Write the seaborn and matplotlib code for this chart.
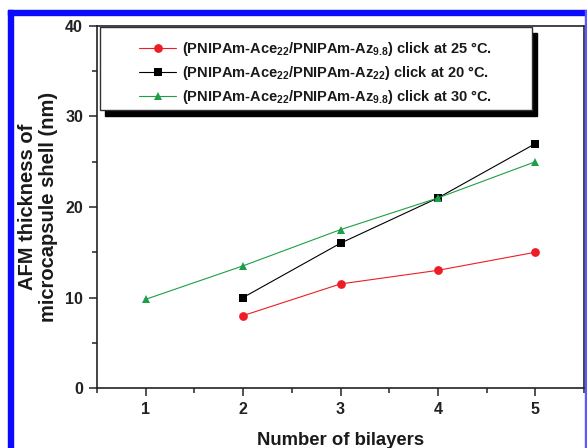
import matplotlib
matplotlib.use("Agg")
import matplotlib.pyplot as plt
from matplotlib.patches import Rectangle
from matplotlib.ticker import MultipleLocator
import seaborn as sns
import pandas as pd

# ---- data ----
bilayers_25 = [2, 3, 4, 5]
thick_25 = [8.0, 11.5, 13.0, 15.0]
bilayers_20 = [2, 3, 4, 5]
thick_20 = [10.0, 16.0, 21.0, 27.0]
bilayers_30 = [1, 2, 3, 4, 5]
thick_30 = [9.8, 13.5, 17.5, 21.0, 25.0]
labels = [
    r"(PNIPAm-Ace$_{22}$/PNIPAm-Az$_{9.8}$) click at 25 °C.",
    r"(PNIPAm-Ace$_{22}$/PNIPAm-Az$_{22}$) click at 20 °C.",
    r"(PNIPAm-Ace$_{22}$/PNIPAm-Az$_{9.8}$) click at 30 °C.",
]
x_label = "Number of bilayers"
y_label = "AFM thickness of\nmicrocapsule shell (nm)"

sns.set_theme(style="ticks")
plt.rcParams["font.family"] = ["Liberation Sans", "DejaVu Sans"]
plt.rcParams["font.weight"] = "bold"
plt.rcParams["mathtext.fontset"] = "custom"
plt.rcParams["mathtext.rm"] = "Liberation Sans:bold"
plt.rcParams["mathtext.bf"] = "Liberation Sans:bold"
plt.rcParams["mathtext.it"] = "Liberation Sans:bold"
plt.rcParams["mathtext.default"] = "bf"

fig = plt.figure(figsize=(5.87, 4.48), dpi=100)
ax = fig.add_axes([97 / 587, 1 - 388 / 448, 487 / 587, 362 / 448])

series = [
    (bilayers_25, thick_25, "o", "#ee1c25", labels[0]),
    (bilayers_20, thick_20, "s", "#000000", labels[1]),
    (bilayers_30, thick_30, "^", "#1e9e48", labels[2]),
]
for xs, ys, mk, col, lab in series:
    df = pd.DataFrame({"x": xs, "y": ys})
    sns.lineplot(data=df, x="x", y="y", marker=mk, color=col, label=lab,
                 markersize=6.3, markeredgewidth=0, linewidth=0.8, ax=ax)

ax.set_xlim(0.5, 5.5)
ax.set_ylim(0, 40)
ax.xaxis.set_major_locator(MultipleLocator(1))
ax.xaxis.set_minor_locator(MultipleLocator(0.5))
ax.yaxis.set_major_locator(MultipleLocator(10))
ax.yaxis.set_minor_locator(MultipleLocator(5))
ax.tick_params(which="major", direction="out", length=6, width=1.1,
               labelsize=11.5, pad=4, colors="#222222")
ax.tick_params(which="minor", direction="out", length=3.5, width=1.1,
               colors="#222222")
for lab in ax.get_xticklabels() + ax.get_yticklabels():
    lab.set_fontweight("bold")
for sp in ax.spines.values():
    sp.set_visible(True)
    sp.set_linewidth(1.2)
    sp.set_color("#222222")

ax.set_xlabel(x_label, fontsize=13.3, fontweight="bold", labelpad=11, color="#1a1a1a")
ax.set_ylabel(y_label, fontsize=14.5, fontweight="bold", labelpad=5, color="#1a1a1a",
              linespacing=1.15)

# legend box with shadow
bx0, by0, bw, bh = 3 / 487, (388 - 110) / 362, 432 / 487, 83 / 362
dx, dy = 5 / 487, 6 / 362
ax.add_patch(Rectangle((bx0 + dx, by0 - dy), bw, bh, transform=ax.transAxes,
                       facecolor="black", edgecolor="black", zorder=5, clip_on=False))
ax.add_patch(Rectangle((bx0, by0), bw, bh, transform=ax.transAxes,
                       facecolor="white", edgecolor="#333333", linewidth=1.0,
                       zorder=6, clip_on=False))
handles, labs = ax.get_legend_handles_labels()
leg = ax.legend(handles, labs, loc="center",
                bbox_to_anchor=(bx0 + bw / 2 - 0.002, by0 + bh / 2 - 0.012),
                frameon=False, fontsize=10.5, handlelength=2.6, handletextpad=0.35,
                labelspacing=0.42, borderpad=0.0)
leg.set_zorder(7)
for t in leg.get_texts():
    t.set_fontweight("bold")
    t.set_color("#1a1a1a")

# blue page border
blue = "#0a0aff"
fig.patches.append(Rectangle((8 / 587, 0), 5 / 587, 1 - 10 / 448,
                             transform=fig.transFigure, color=blue, zorder=10))
fig.patches.append(Rectangle((8 / 587, 1 - 15 / 448), 1 - 8 / 587, 5 / 448,
                             transform=fig.transFigure, color=blue, zorder=10))
fig.patches.append(Rectangle((585 / 587, 0), 2 / 587, 1 - 10 / 448,
                             transform=fig.transFigure, color="#5a5aff", zorder=10))

fig.savefig("out.png", dpi=100)
